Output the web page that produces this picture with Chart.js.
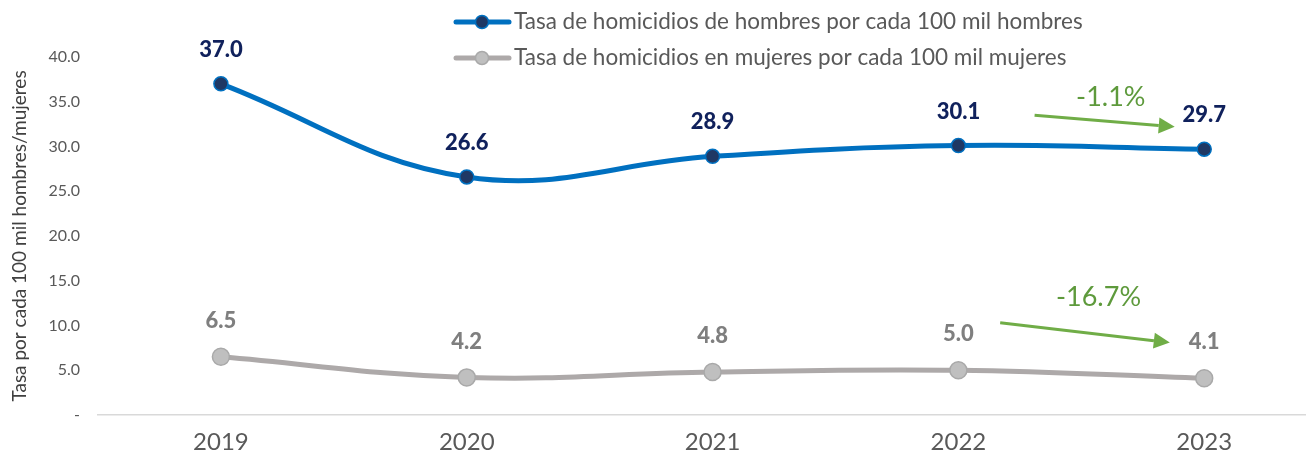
<!DOCTYPE html>
<html lang="es">
<head>
<meta charset="utf-8">
<title>Tasa de homicidios</title>
<script src="https://cdn.jsdelivr.net/npm/chart.js@4/dist/chart.umd.min.js"></script>
<style>
  html, body { margin: 0; padding: 0; background: #ffffff; }
  #contenedor { width: 1315px; height: 465px; position: relative; }
</style>
</head>
<body>
<div id="contenedor"><canvas id="graficoHomicidios"></canvas></div>
<script>
const anios = ["2019", "2020", "2021", "2022", "2023"];
const tasaHombres = [37.0, 26.6, 28.9, 30.1, 29.7];
const tasaMujeres = [6.5, 4.2, 4.8, 5.0, 4.1];
const etiquetaHombres = "Tasa de homicidios de hombres por cada 100 mil hombres";
const etiquetaMujeres = "Tasa de homicidios en mujeres por cada 100 mil mujeres";
const tituloEjeY = "Tasa por cada 100 mil hombres/mujeres";
const ticksEjeY = [0, 5, 10, 15, 20, 25, 30, 35, 40];

// variaciones 2022-2023 (flechas verdes)
const variacionTextos = ["-1.1%", "-16.7%"];
const variacionDesde = [[3.31, 33.5], [3.17, 10.3]];
const variacionHasta = [[3.88, 32.2], [3.86, 8.1]];
const variacionTextoPos = [[3.62, 35.5], [3.57, 13.2]];

const fuente = "Lato, 'Open Sans', sans-serif";
const azul = "#0070C0";
const azulOscuro = "#1F3864";
const gris = "#ADA9A9";
const verde = "#70AD47";

const puntos = (serie) => serie.map((valor, index) => ({ x: index, y: valor }));

const etiquetasDatos = {
  id: "etiquetasDatos",
  afterDatasetsDraw(chart) {
    const ctx = chart.ctx;
    const estilos = [
      { color: "#10215C", desplazamiento: 34 },
      { color: "#7F7F7F", desplazamiento: 36 }
    ];
    ctx.save();
    ctx.font = `900 22px ${fuente}`;
    ctx.textAlign = "center";
    ctx.textBaseline = "middle";
    chart.data.datasets.forEach((dataset, i) => {
      const meta = chart.getDatasetMeta(i);
      meta.data.forEach((punto, j) => {
        ctx.fillStyle = estilos[i].color;
        ctx.fillText(dataset.data[j].y.toFixed(1), punto.x, punto.y - estilos[i].desplazamiento);
      });
    });
    ctx.restore();
  }
};

const flechas = {
  id: "flechas",
  afterDraw(chart) {
    const ctx = chart.ctx;
    const x = chart.scales.x;
    const y = chart.scales.y;
    ctx.save();
    variacionTextos.forEach((texto, i) => {
      const x1 = x.getPixelForValue(variacionDesde[i][0]);
      const y1 = y.getPixelForValue(variacionDesde[i][1]);
      const x2 = x.getPixelForValue(variacionHasta[i][0]);
      const y2 = y.getPixelForValue(variacionHasta[i][1]);
      const angulo = Math.atan2(y2 - y1, x2 - x1);
      const largo = 16;
      const ancho = 8;
      const bx = x2 - largo * Math.cos(angulo);
      const by = y2 - largo * Math.sin(angulo);
      ctx.strokeStyle = verde;
      ctx.fillStyle = verde;
      ctx.lineWidth = 3;
      ctx.beginPath();
      ctx.moveTo(x1, y1);
      ctx.lineTo(bx, by);
      ctx.stroke();
      ctx.beginPath();
      ctx.moveTo(x2, y2);
      ctx.lineTo(bx + ancho * Math.sin(angulo), by - ancho * Math.cos(angulo));
      ctx.lineTo(bx - ancho * Math.sin(angulo), by + ancho * Math.cos(angulo));
      ctx.closePath();
      ctx.fill();

      ctx.fillStyle = "#5E9A3C";
      ctx.font = `400 27px ${fuente}`;
      ctx.textAlign = "center";
      ctx.textBaseline = "middle";
      ctx.fillText(texto, x.getPixelForValue(variacionTextoPos[i][0]), y.getPixelForValue(variacionTextoPos[i][1]));
    });
    ctx.restore();
  }
};

const leyenda = {
  id: "leyenda",
  afterDraw(chart) {
    const ctx = chart.ctx;
    const filas = [
      { texto: etiquetaHombres, linea: azul, relleno: azulOscuro, borde: azul, y: 22 },
      { texto: etiquetaMujeres, linea: gris, relleno: "#BFBFBF", borde: "#A9A9A9", y: 58 }
    ];
    ctx.save();
    filas.forEach((fila) => {
      ctx.strokeStyle = fila.linea;
      ctx.lineWidth = 5;
      ctx.lineCap = "round";
      ctx.beginPath();
      ctx.moveTo(456, fila.y);
      ctx.lineTo(509, fila.y);
      ctx.stroke();
      ctx.beginPath();
      ctx.arc(482, fila.y, 6.5, 0, Math.PI * 2);
      ctx.fillStyle = fila.relleno;
      ctx.fill();
      ctx.lineWidth = 1.5;
      ctx.strokeStyle = fila.borde;
      ctx.stroke();
      ctx.font = `22.5px ${fuente}`;
      ctx.fillStyle = "#595959";
      ctx.textAlign = "left";
      ctx.textBaseline = "middle";
      ctx.fillText(fila.texto, 514, fila.y);
    });
    ctx.restore();
  }
};

new Chart(document.getElementById("graficoHomicidios"), {
  type: "line",
  data: {
    datasets: [
      {
        label: etiquetaHombres,
        data: puntos(tasaHombres),
        borderColor: azul,
        borderWidth: 5,
        pointBackgroundColor: azulOscuro,
        pointBorderColor: azul,
        pointBorderWidth: 1.5,
        pointRadius: 7,
        tension: 0.4,
        fill: false
      },
      {
        label: etiquetaMujeres,
        data: puntos(tasaMujeres),
        borderColor: gris,
        borderWidth: 5,
        pointBackgroundColor: "#BFBFBF",
        pointBorderColor: "#A9A9A9",
        pointBorderWidth: 1.5,
        pointRadius: 8.5,
        tension: 0.4,
        fill: false
      }
    ]
  },
  options: {
    responsive: true,
    maintainAspectRatio: false,
    animation: false,
    layout: { padding: { top: 57, right: 0, bottom: 0, left: 0 } },
    plugins: {
      legend: { display: false },
      tooltip: { enabled: false }
    },
    scales: {
      x: {
        type: "linear",
        min: -0.5,
        max: 4.41,
        afterBuildTicks: (scale) => {
          scale.ticks = anios.map((_, index) => ({ value: index }));
        },
        afterFit: (scale) => { scale.height = 50; },
        grid: { display: false, drawTicks: false },
        border: { color: "#D9D9D9", width: 1.5 },
        ticks: {
          padding: 13,
          color: "#595959",
          font: { family: fuente, size: 24 },
          callback: (valor) => anios[valor] ?? ""
        }
      },
      y: {
        min: 0,
        max: 40,
        afterBuildTicks: (scale) => {
          scale.ticks = ticksEjeY.map((valor) => ({ value: valor }));
        },
        afterFit: (scale) => { scale.width = 98; },
        grid: { display: false, drawTicks: false },
        border: { display: false },
        title: {
          display: true,
          text: tituloEjeY,
          color: "#404040",
          font: { family: fuente, size: 19 },
          padding: { top: 8, bottom: 0 }
        },
        ticks: {
          padding: 18,
          color: "#595959",
          font: { family: fuente, size: 16 },
          callback: (valor) => valor === 0 ? "-" : Number(valor).toFixed(1)
        }
      }
    }
  },
  plugins: [etiquetasDatos, flechas, leyenda]
});
</script>
</body>
</html>
